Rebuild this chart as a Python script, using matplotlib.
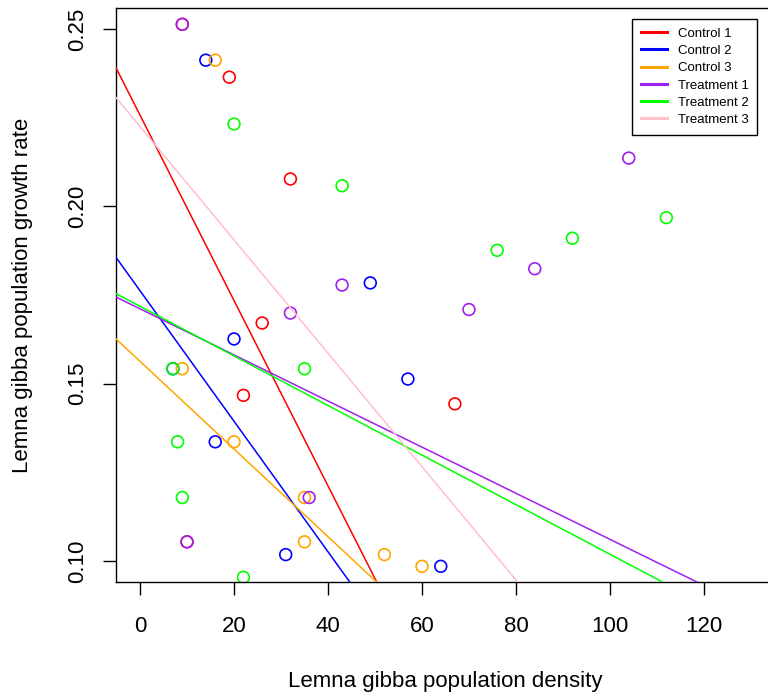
import matplotlib
matplotlib.use('Agg')
from matplotlib import pyplot as plt

plt.rcParams['font.family'] = ['Liberation Sans', 'DejaVu Sans']

# groups and their colours, in legend order
groups = ['Control 1', 'Control 2', 'Control 3', 'Treatment 1', 'Treatment 2', 'Treatment 3']
colors = ['#FF0000', '#0000FF', '#FFA500', '#A020F0', '#00FF00', '#FFC0CB']

# density vs growth rate for each group
c1_density = [9, 19, 32, 26, 22, 67, 10]
c1_growth = [0.2513, 0.2364, 0.2077, 0.1671, 0.1467, 0.1443, 0.1054]

c2_density = [14, 49, 20, 7, 57, 16, 31, 64]
c2_growth = [0.2412, 0.1784, 0.1626, 0.1542, 0.1513, 0.1336, 0.1018, 0.0985]

c3_density = [16, 9, 20, 35, 35, 52, 60]
c3_growth = [0.2412, 0.1542, 0.1336, 0.1179, 0.1054, 0.1018, 0.0985]

t1_density = [9, 43, 32, 70, 84, 104, 36, 10]
t1_growth = [0.2513, 0.1778, 0.1699, 0.1709, 0.1824, 0.2136, 0.1179, 0.1054]

t2_density = [20, 43, 76, 92, 112, 7, 35, 8, 9, 22]
t2_growth = [0.2232, 0.2058, 0.1876, 0.1910, 0.1968, 0.1542, 0.1542, 0.1336, 0.1179, 0.0954]

# no points are visible for treatment 3, only its line
t3_density = []
t3_growth = []

# regression lines: intercept and slope per group
intercepts = [0.2257, 0.1762, 0.1563, 0.1711, 0.1718, 0.2225]
slopes = [-0.002613, -0.00184, -0.001236, -0.00065, -0.000699, -0.001598]

xticks = [0, 20, 40, 60, 80, 100, 120]
yticks = [0.10, 0.15, 0.20, 0.25]

densities = [c1_density, c2_density, c3_density, t1_density, t2_density, t3_density]
growths = [c1_growth, c2_growth, c3_growth, t1_growth, t2_growth, t3_growth]

fig = plt.figure(figsize=(7.68, 6.98), dpi=100)
# the plot box runs a little past the right edge of the picture
ax = fig.add_axes([0.1505, 0.1658, 0.8591, 0.8232])

# open circles for every group
for d, g, col in zip(densities, growths, colors):
    if len(d) > 0:
        ax.scatter(d, g, s=72, facecolors='none', edgecolors=col, linewidths=1.2, zorder=2)

# fitted lines
for a, b, col, name in zip(intercepts, slopes, colors, groups):
    ax.axline((0, a), slope=b, color=col, lw=1.1, zorder=3)

ax.set_xlim(-5.2, 135.2)
ax.set_ylim(0.094, 0.256)
ax.set_xticks(xticks)
ax.set_xticklabels([str(t) for t in xticks])
ax.set_yticks(yticks)
ax.set_yticklabels(['%.2f' % t for t in yticks])
ax.tick_params(axis='both', direction='out', length=9.7, width=1.0, labelsize=16)
ax.tick_params(axis='x', pad=14.5)
ax.tick_params(axis='y', pad=10)
for lab in ax.get_yticklabels():
    lab.set_rotation(90)
    lab.set_va('center')
for sp in ax.spines.values():
    sp.set_linewidth(1.0)
    sp.set_color('black')

fig.text(445.5 / 768, 1 - 682 / 698, 'Lemna gibba population density',
         fontsize=16, ha='center', va='center')
fig.text(22.5 / 768, 1 - 295 / 698, 'Lemna gibba population growth rate',
         fontsize=16, ha='center', va='center', rotation=90)

# legend with thicker lines
handles = [plt.Line2D([], [], color=c, lw=2.2) for c in colors]
leg = ax.legend(handles, groups, loc='upper right',
                bbox_to_anchor=(757 / 768, 1 - 19 / 698), bbox_transform=fig.transFigure,
                borderaxespad=0, fontsize=9.5, fancybox=False, framealpha=1,
                edgecolor='black', handlelength=2.0, handletextpad=0.8,
                labelspacing=0.38, borderpad=0.65)
leg.get_frame().set_linewidth(1.0)

fig.savefig('out.png', dpi=100)
